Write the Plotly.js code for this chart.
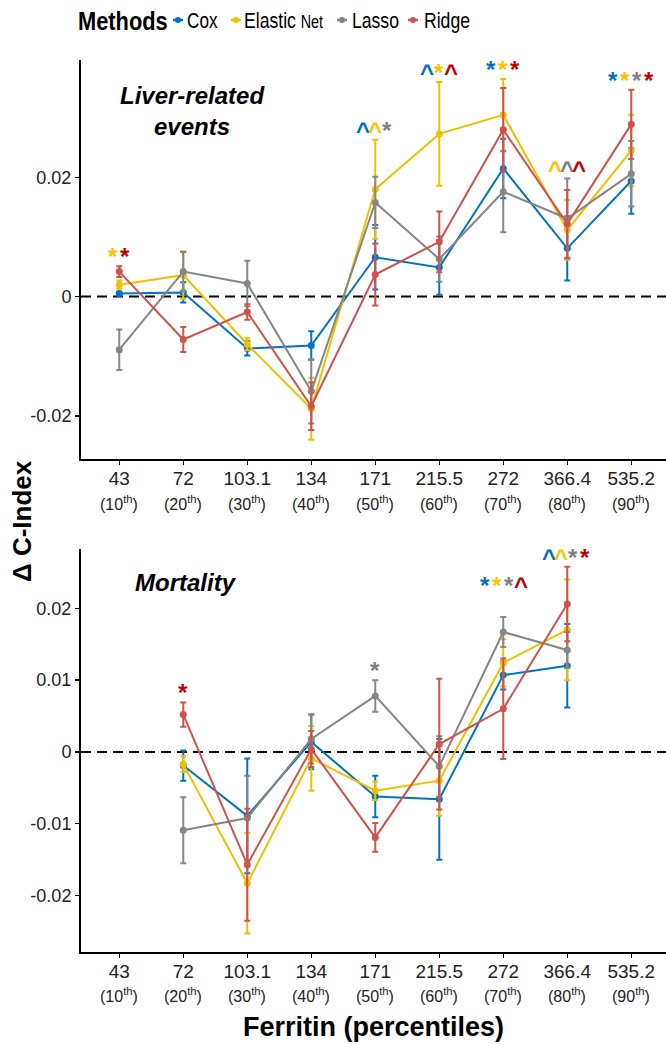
<!DOCTYPE html>
<html>
<head>
<meta charset="utf-8">
<script src="https://cdn.plot.ly/plotly-3.0.1.min.js"></script>
<style>html,body{margin:0;padding:0;background:#fff;}#chart{width:666px;height:1044px;}</style>
</head>
<body>
<div id="chart"></div>
<script>
// ---------- data ----------
const categories = ["43", "72", "103.1", "134", "171", "215.5", "272", "366.4", "535.2"];
const percentiles = ["10", "20", "30", "40", "50", "60", "70", "80", "90"];
const methods = ["Cox", "Elastic Net", "Lasso", "Ridge"];

// Liver-related events: delta C-index and error
const liverCox     = [0.0005, 0.0007, -0.0087, -0.0082, 0.0066, 0.0049, 0.0215, 0.0081, 0.0194];
const liverCoxErr  = [0.0003, 0.0017, 0.0012, 0.0024, 0.0054, 0.0046, 0.0050, 0.0054, 0.0055];
const liverEN      = [0.0020, 0.0036, -0.0080, -0.0188, 0.0180, 0.0273, 0.0305, 0.0112, 0.0245];
const liverENErr   = [0.0007, 0.0040, 0.0010, 0.0052, 0.0083, 0.0087, 0.0060, 0.0050, 0.0060];
const liverLasso   = [-0.0089, 0.0042, 0.0022, -0.0159, 0.0158, 0.0063, 0.0176, 0.0131, 0.0206];
const liverLassoErr= [0.0034, 0.0033, 0.0038, 0.0054, 0.0043, 0.0038, 0.0068, 0.0067, 0.0055];
const liverRidge   = [0.0042, -0.0072, -0.0026, -0.0184, 0.0037, 0.0092, 0.0280, 0.0122, 0.0289];
const liverRidgeErr= [0.0009, 0.0021, 0.0013, 0.0040, 0.0052, 0.0051, 0.0070, 0.0057, 0.0058];

// Mortality
const mortCox      = [null, -0.0019, -0.0089, 0.0014, -0.0062, -0.0066, 0.0107, 0.0120, null];
const mortCoxErr   = [null, 0.0021, 0.0080, 0.0038, 0.0029, 0.0084, 0.0020, 0.0058, null];
const mortEN       = [null, -0.0017, -0.0183, -0.0009, -0.0054, -0.0040, 0.0124, 0.0170, null];
const mortENErr    = [null, 0.0011, 0.0070, 0.0045, 0.0013, 0.0049, 0.0033, 0.0070, null];
const mortLasso    = [null, -0.0109, -0.0092, 0.0018, 0.0078, -0.0020, 0.0167, 0.0142, null];
const mortLassoErr = [null, 0.0046, 0.0059, 0.0034, 0.0022, 0.0042, 0.0021, 0.0025, null];
const mortRidge    = [null, 0.0052, -0.0157, 0.0004, -0.0119, 0.0011, 0.0060, 0.0206, null];
const mortRidgeErr = [null, 0.0017, 0.0078, 0.0025, 0.0020, 0.0091, 0.0070, 0.0052, null];

// significance marks per category, one char per method (Cox, Elastic Net, Lasso, Ridge); '-' = none
const liverSig = ["-*-*", "----", "----", "----", "^^*-", "^*-^", "**-*", "-^^^", "****"];
const mortSig  = ["----", "---*", "----", "----", "--*-", "----", "***^", "^^**", "----"];

// ---------- styles ----------
const lineColors = ["#0073C2", "#EFC000", "#868686", "#CD534C"];
const sigColors  = ["#0070C0", "#FFC000", "#7F7F7F", "#C00000"];
const FONT = "Liberation Sans, Arial, sans-serif";
const W = 666, H = 1044;
const px = v => v / W, py = v => 1 - v / H;
const legendLabels = ["Cox", "Elastic <span style='font-size:18px'>Net</span>", "Lasso", "Ridge"];
const legendTextX = [187, 244, 352, 424];
const legendMarkX = [178, 236, 342, 413];
const legendY = 20;
const mortExtraShift = [0, 0, 0, 0, 0, 0, 22, 0, 0];
const liverExtraShift = [0, 0, 0, 0, 0, 0, 0, 0, 0];

const liverVals = [liverCox, liverEN, liverLasso, liverRidge];
const liverErrs = [liverCoxErr, liverENErr, liverLassoErr, liverRidgeErr];
const mortVals = [mortCox, mortEN, mortLasso, mortRidge];
const mortErrs = [mortCoxErr, mortENErr, mortLassoErr, mortRidgeErr];

function makeTraces(vals, errs, xa, ya) {
  return methods.map((m, i) => ({
    type: "scatter", mode: "lines+markers",
    x: categories, y: vals[i], xaxis: xa, yaxis: ya,
    name: m, legendgroup: m, showlegend: false,
    line: { color: lineColors[i], width: 2 },
    marker: { color: lineColors[i], size: 7 },
    error_y: { type: "data", array: errs[i], visible: true, color: lineColors[i], thickness: 2, width: 3 },
    connectgaps: false, cliponaxis: false, hoverinfo: "skip"
  }));
}

const data = [].concat(
  makeTraces(liverVals, liverErrs, "x", "y"),
  makeTraces(mortVals, mortErrs, "x2", "y2")
);

function sigAnnotations(sig, vals, errs, xref, yref, extra) {
  const out = [];
  sig.forEach((s, j) => {
    const present = [];
    for (let i = 0; i < 4; i++) if (s[i] !== "-") present.push(i);
    if (!present.length) return;
    let top = -Infinity;
    for (let i = 0; i < 4; i++) {
      if (vals[i][j] != null) top = Math.max(top, vals[i][j] + errs[i][j]);
    }
    const n = present.length;
    present.forEach((i, k) => {
      out.push({
        xref: xref, yref: yref, x: j, y: top,
        xshift: (k - (n - 1) / 2) * 12, yshift: -6 + extra[j],
        yanchor: "bottom", xanchor: "center", showarrow: false,
        text: "<b>" + s[i] + "</b>",
        font: { family: FONT, size: 24, color: sigColors[i] }
      });
    });
  });
  return out;
}

const annotations = [].concat(
  sigAnnotations(liverSig, liverVals, liverErrs, "x", "y", liverExtraShift),
  sigAnnotations(mortSig, mortVals, mortErrs, "x2", "y2", mortExtraShift)
);

// percentile second line labels
categories.forEach((c, j) => {
  [["x", 503], ["x2", 995]].forEach(([xr, yy]) => {
    annotations.push({
      xref: xr, yref: "paper", x: j, y: py(yy), xanchor: "center", yanchor: "middle", showarrow: false,
      text: "(" + percentiles[j] + "<sup>th</sup>)",
      font: { family: FONT, size: 16, color: "#222" }
    });
  });
});

// manual legend
const shapes = [];
annotations.push({ xref: "paper", yref: "paper", x: px(76), y: py(legendY + 1), xanchor: "left", yanchor: "middle",
  showarrow: false, text: "<b>Methods</b>", font: { family: FONT, size: 26, color: "#000" } });
methods.forEach((m, i) => {
  annotations.push({ xref: "paper", yref: "paper", x: px(legendTextX[i] - 2), y: py(legendY + 1), xanchor: "left", yanchor: "middle",
    showarrow: false, text: legendLabels[i], font: { family: FONT, size: 22, color: "#000" } });
  shapes.push({ type: "line", xref: "paper", yref: "paper",
    x0: px(legendMarkX[i] - 5), x1: px(legendMarkX[i] + 5), y0: py(legendY), y1: py(legendY),
    line: { color: lineColors[i], width: 2.5 } });
  shapes.push({ type: "circle", xref: "paper", yref: "paper", fillcolor: lineColors[i],
    x0: px(legendMarkX[i] - 3), x1: px(legendMarkX[i] + 3), y0: py(legendY - 3), y1: py(legendY + 3),
    line: { color: lineColors[i], width: 0 } });
});

annotations.push(
  { xref: "paper", yref: "paper", x: px(192), y: py(111), xanchor: "center", yanchor: "middle", showarrow: false,
    text: "<b><i>Liver-related<br>events</i></b>", font: { family: FONT, size: 24, color: "#000" } },
  { xref: "paper", yref: "paper", x: px(186), y: py(582), xanchor: "center", yanchor: "middle", showarrow: false,
    text: "<b><i>Mortality</i></b>", font: { family: FONT, size: 24, color: "#000" } },
  { xref: "paper", yref: "paper", x: px(22), y: py(521), xanchor: "center", yanchor: "middle", showarrow: false, textangle: -90,
    text: "<b>Δ C-Index</b>", font: { family: FONT, size: 26, color: "#000" } },
  { xref: "paper", yref: "paper", x: px(373.5), y: py(1027), xanchor: "center", yanchor: "middle", showarrow: false,
    text: "<b>Ferritin (percentiles)</b>", font: { family: FONT, size: 27, color: "#000" } }
);

shapes.push(
  { type: "line", xref: "x domain", yref: "y", x0: 0, x1: 1, y0: 0, y1: 0, layer: "below",
    line: { color: "#000", width: 2, dash: "10px,6px" } },
  { type: "line", xref: "x2 domain", yref: "y2", x0: 0, x1: 1, y0: 0, y1: 0, layer: "below",
    line: { color: "#000", width: 2, dash: "10px,6px" } }
);

const xBase = {
  type: "category", categoryorder: "array", categoryarray: categories,
  range: [-0.598, 8.543], domain: [px(81), 1],
  showline: true, linecolor: "#000", linewidth: 2, mirror: false,
  ticks: "outside", ticklen: 4, tickwidth: 1.5, tickcolor: "#000",
  ticklabelstandoff: -3,
  showgrid: false, zeroline: false, automargin: false,
  tickfont: { family: FONT, size: 19, color: "#222" }, fixedrange: true
};
const yBase = {
  showline: true, linecolor: "#000", linewidth: 2,
  ticks: "outside", ticklen: 4, tickwidth: 1.5, tickcolor: "#000",
  showgrid: false, zeroline: false, automargin: false,
  tickfont: { family: FONT, size: 18, color: "#222" }, fixedrange: true
};

const layout = {
  width: W, height: H,
  margin: { l: 0, r: 0, t: 0, b: 0 },
  paper_bgcolor: "#fff", plot_bgcolor: "#fff",
  font: { family: FONT, color: "#000" },
  showlegend: false,
  xaxis: Object.assign({}, xBase, { anchor: "y" }),
  yaxis: Object.assign({}, yBase, {
    anchor: "x", domain: [py(459.3), py(60)], range: [-0.0273, 0.0397],
    tickvals: [-0.02, 0, 0.02], ticktext: ["-0.02", "0", "0.02"]
  }),
  xaxis2: Object.assign({}, xBase, { anchor: "y2" }),
  yaxis2: Object.assign({}, yBase, {
    anchor: "x2", domain: [py(951.7), py(549.3)], range: [-0.02782, 0.02822],
    tickvals: [-0.02, -0.01, 0, 0.01, 0.02], ticktext: ["-0.02", "-0.01", "0", "0.01", "0.02"]
  }),
  shapes: shapes,
  annotations: annotations
};

// legend text in the reference is set in a condensed face; narrow the legend labels horizontally
const condense = { "Methods": 0.84, "Cox": 0.78, "Elastic Net": 0.8, "Lasso": 0.8, "Ridge": 0.8 };

Plotly.newPlot("chart", data, layout, { staticPlot: true, displayModeBar: false }).then(() => {
  document.querySelectorAll("#chart .annotation-text").forEach(t => {
    const k = condense[t.textContent.trim()];
    if (!k) return;
    const b = t.getBBox();
    const x0 = b.x;
    const prev = t.getAttribute("transform") || "";
    t.setAttribute("transform", prev + " translate(" + x0 + ",0) scale(" + k + ",1) translate(" + (-x0) + ",0)");
  });
});
</script>
</body>
</html>
